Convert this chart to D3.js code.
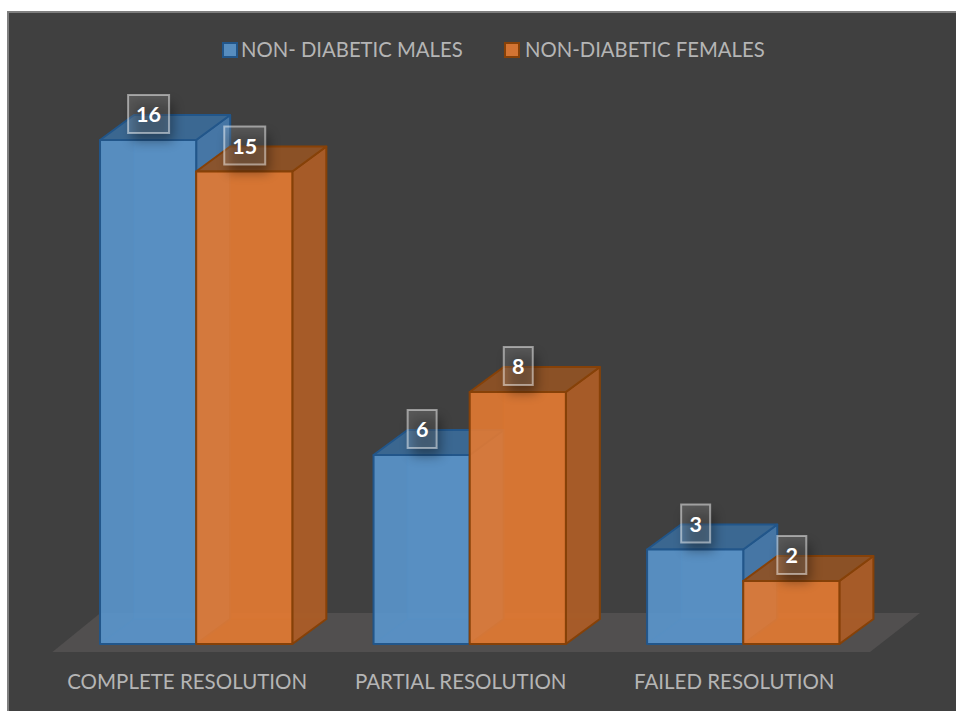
<!DOCTYPE html>
<html>
<head>
<meta charset="utf-8">
<script src="https://cdn.jsdelivr.net/npm/d3@7/dist/d3.min.js"></script>
<style>
html,body{margin:0;padding:0;background:#fff;}
svg{display:block;}
text{font-family:Lato,"Open Sans",sans-serif;}
</style>
</head>
<body>
<svg id="chart" width="956" height="711"></svg>
<script>
// Outcome counts per resolution class
const categories = ["COMPLETE RESOLUTION", "PARTIAL RESOLUTION", "FAILED RESOLUTION"];
const seriesNames = ["NON- DIABETIC MALES", "NON-DIABETIC FEMALES"];
const maleValues = [16, 6, 3];
const femaleValues = [15, 8, 2];

const seriesStyles = [
  {front:"#5a96cd", side:"#467aab", top:"#3b6a97", edge:"#22568a"},
  {front:"#e37a32", side:"#ad5c26", top:"#8f5124", edge:"#864108"}
];

const svg = d3.select("#chart");
const baseY = 644, depthX = 34, depthY = 25;

const x = d3.scaleBand().domain(categories).range([59.4, 880]).paddingInner(0.297).paddingOuter(0.1485);
const xSeries = d3.scaleBand().domain(d3.range(seriesNames.length)).range([0, x.bandwidth()]);
const y = d3.scaleLinear().domain([0, 16]).range([baseY, 140]);

// Soft shadow used behind the value labels
const defs = svg.append("defs");
defs.append("filter").attr("id", "soft").attr("x", "-60%").attr("y", "-60%").attr("width", "220%").attr("height", "220%")
  .append("feGaussianBlur").attr("stdDeviation", 6);

// Dark panel with its thin grey edge
svg.append("rect").attr("x", 7).attr("y", 11).attr("width", 949).attr("height", 700).attr("fill", "#404040");
svg.append("path").attr("d", "M8 711V12H956").attr("fill", "none").attr("stroke", "#7f7f7f").attr("stroke-width", 2);

// Floor plane
const floorLeft = x.range()[0] - 7, floorRight = x.range()[1] - 10;
svg.append("polygon")
  .attr("points", [[floorLeft, baseY + 8], [floorLeft + 48, baseY - 31], [floorRight + 50, baseY - 31], [floorRight, baseY + 8]].join(" "))
  .attr("fill", "#514f4f");

// One record per drawn column
const columns = [];
categories.forEach((c, i) => {
  [maleValues, femaleValues].forEach((vals, s) => {
    columns.push({category: c, s, value: vals[i]});
  });
});

const poly = pts => pts.map(p => p.join(",")).join(" ");

const bars = svg.append("g").selectAll("g").data(columns).join("g");
bars.each(function (d) {
  const g = d3.select(this), st = seriesStyles[d.s];
  const x0 = x(d.category) + xSeries(d.s), x1 = x0 + xSeries.bandwidth();
  const t = y(d.value), b = y(0), dx = depthX, dy = depthY;
  const face = (pts, fill, op) => g.append("polygon").attr("points", poly(pts))
    .attr("fill", fill).attr("fill-opacity", op)
    .attr("stroke", st.edge).attr("stroke-width", 2).attr("stroke-linejoin", "round");
  // Faces are painted back to front; each is translucent so hidden edges show faintly
  face([[x0 + dx, t - dy], [x1 + dx, t - dy], [x1 + dx, b - dy], [x0 + dx, b - dy]], st.front, 0.2).attr("stroke-opacity", 0.15);
  face([[x0, b], [x1, b], [x1 + dx, b - dy], [x0 + dx, b - dy]], st.front, 0.1).attr("stroke-opacity", 0.15);
  face([[x0, t], [x0 + dx, t - dy], [x0 + dx, b - dy], [x0, b]], st.front, 0.02).attr("stroke-opacity", 0.1);
  face([[x1, t], [x1 + dx, t - dy], [x1 + dx, b - dy], [x1, b]], st.side, 0.92);
  face([[x0, t], [x1, t], [x1 + dx, t - dy], [x0 + dx, t - dy]], st.top, 0.92);
  face([[x0, t], [x1, t], [x1, b], [x0, b]], st.front, 0.9);
});

// Value labels centred over each front face
const labelY = v => y(v) - 26;
const boxWidth = v => String(v).length > 1 ? 41 : 29;
const boxHeight = 38;
const labels = svg.append("g").selectAll("g").data(columns).join("g")
  .attr("transform", d => `translate(${x(d.category) + xSeries(d.s) + xSeries.bandwidth() / 2 + 0.5},${labelY(d.value)})`);
labels.append("rect")
  .attr("x", d => -boxWidth(d.value) / 2 + 4).attr("y", -boxHeight / 2 + 8)
  .attr("width", d => boxWidth(d.value)).attr("height", boxHeight)
  .attr("fill", "#000").attr("opacity", 0.36).attr("filter", "url(#soft)");
labels.append("rect")
  .attr("x", d => -boxWidth(d.value) / 2).attr("y", -boxHeight / 2)
  .attr("width", d => boxWidth(d.value)).attr("height", boxHeight)
  .attr("fill", "#fff").attr("fill-opacity", 0.13)
  .attr("stroke", "#fff").attr("stroke-opacity", 0.48).attr("stroke-width", 2);
labels.append("text").attr("text-anchor", "middle").attr("y", 8)
  .attr("fill", "#fff").attr("font-size", 21.5).attr("font-weight", 700)
  .text(d => d.value);

// Category axis, tick labels only
const axis = svg.append("g").attr("transform", "translate(-9,675)")
  .call(d3.axisBottom(x).tickSize(0));
axis.select(".domain").remove();
axis.selectAll("text")
  .attr("y", 14).attr("dy", 0)
  .attr("fill", "#b5b5b5").attr("font-size", 20.5).attr("font-family", "Lato");

// Legend
const legendX = [222, 504], legendTextX = [241, 525];
const legend = svg.append("g").selectAll("g").data(seriesNames).join("g");
legend.append("rect")
  .attr("x", (d, i) => legendX[i] + 1).attr("y", 43).attr("width", 14).attr("height", 14)
  .attr("fill", (d, i) => seriesStyles[i].front).attr("fill-opacity", 0.9)
  .attr("stroke", (d, i) => seriesStyles[i].edge).attr("stroke-width", 2);
legend.append("text")
  .attr("x", (d, i) => legendTextX[i]).attr("y", 57)
  .attr("fill", "#b5b5b5").attr("font-size", 20.3)
  .text(d => d);
</script>
</body>
</html>
